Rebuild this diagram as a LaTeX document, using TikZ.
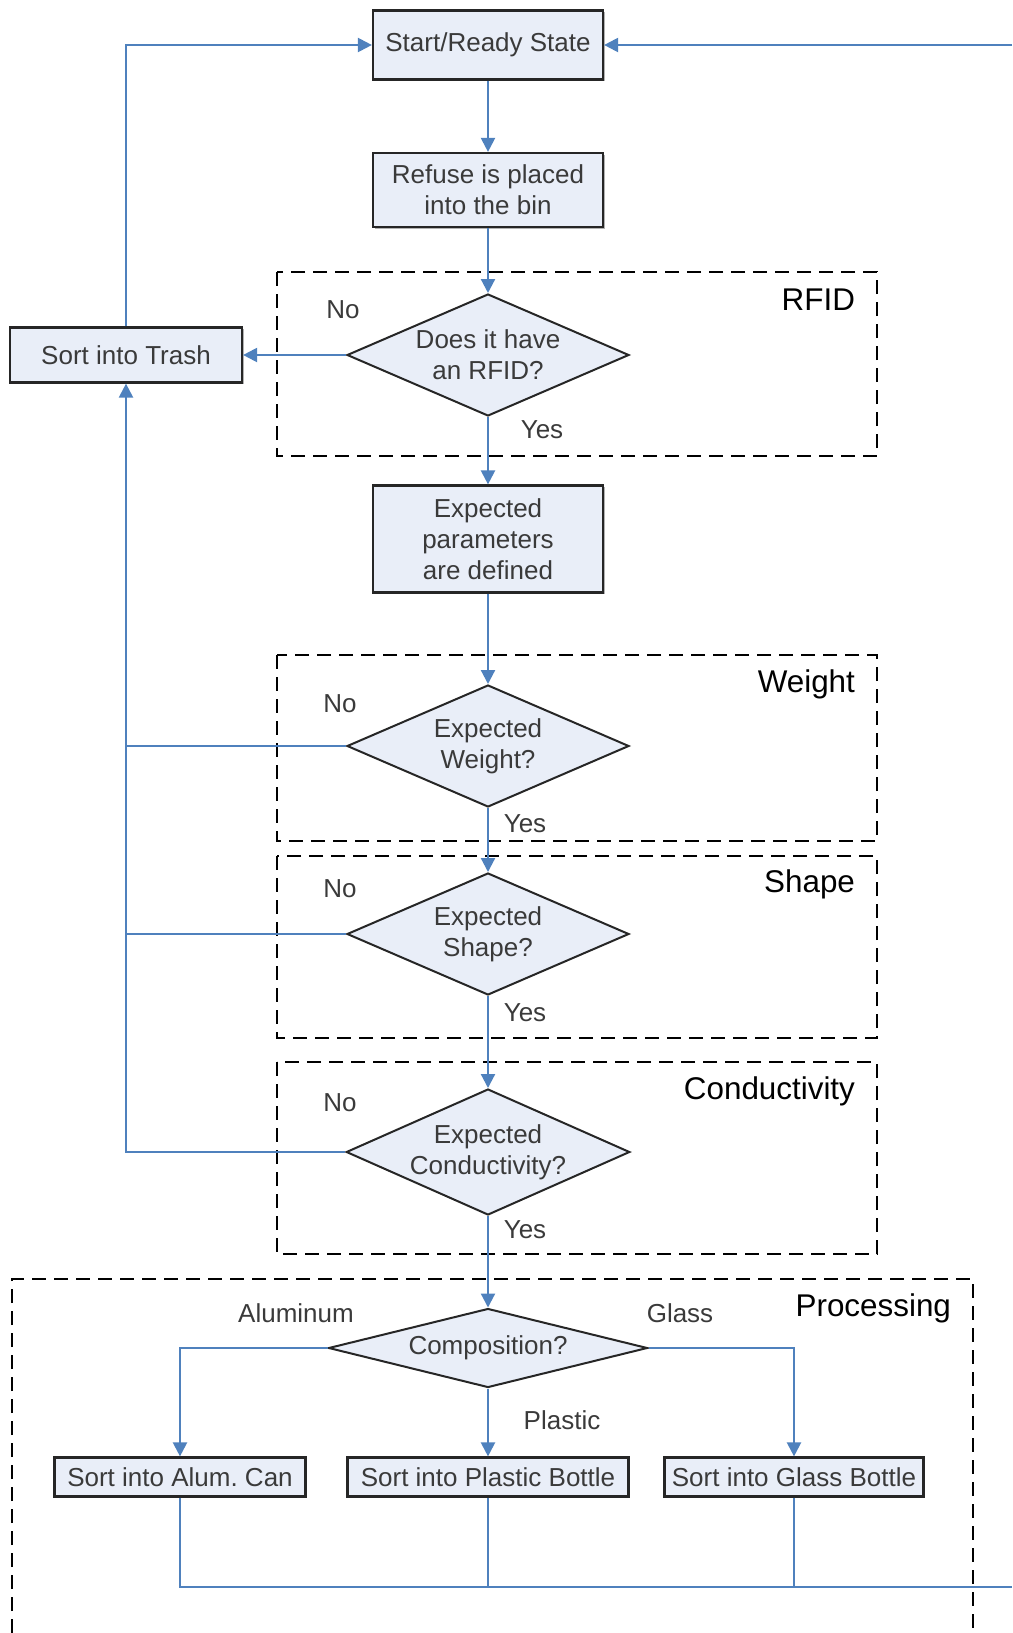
\documentclass[tikz,border=0pt]{standalone}
\usepackage{fontspec}
\setmainfont{Liberation Sans}
\usetikzlibrary{arrows.meta,shapes.geometric,shadows}
\definecolor{FlowBlue}{HTML}{4F81BD}
\definecolor{BoxFill}{HTML}{E9EEF8}
\definecolor{BoxText}{HTML}{3A3A3A}

\tikzset{
  procbox/.style={draw=black!85,line width=1.1pt,fill=BoxFill,text=BoxText,align=center,inner sep=2pt,
    font=\fontsize{13}{15.6}\selectfont,drop shadow={shadow xshift=0.8pt,shadow yshift=-0.8pt,fill=black!60,opacity=0.5}},
  decbox/.style={diamond,draw=black!85,line width=1pt,fill=BoxFill,text=BoxText,align=center,inner sep=0pt,
    shape aspect=2.3,minimum width=141pt,minimum height=61pt,font=\fontsize{13}{15.6}\selectfont},
  flow/.style={draw=FlowBlue,line width=1.1pt,-{Triangle[length=7pt,width=7pt]}},
  link/.style={draw=FlowBlue,line width=1.1pt},
  tag/.style={text=BoxText,font=\fontsize{13}{15.6}\selectfont},
  group/.style={draw=black,line width=1pt,dash pattern=on 7pt off 4pt},
  grouptag/.style={anchor=east,font=\fontsize{15.7}{18}\selectfont}
}

\begin{document}
\begin{tikzpicture}[x=0.5pt,y=-0.5pt]
\useasboundingbox (0,0) rectangle (1012,1633);

% dashed groups
\draw[group] (277,272) rectangle (877,456);
\draw[group] (277,655) rectangle (877,841);
\draw[group] (277,856) rectangle (877,1038);
\draw[group] (277,1062) rectangle (877,1254);
\draw[group] (12,1633) -- (12,1279) -- (973,1279) -- (973,1633);
\node[grouptag] (rfidtag) at (862,300) {RFID};
\node[grouptag] (weighttag) at (862,684) {Weight};
\node[grouptag] (shapetag) at (862,884) {Shape};
\node[grouptag] (condtag) at (862,1091) {Conductivity};
\node[grouptag] (proctag) at (958,1308) {Processing};

% steps
\node[procbox,minimum width=115pt,minimum height=34.5pt] (start) at (488,45) {Start/Ready State};
\node[procbox,minimum width=115pt,minimum height=37pt] (refuse) at (488,190) {Refuse is placed\\into the bin};
\node[decbox] (rfid) at (488,355) {Does it have\\an RFID?};
\node[procbox,minimum width=116pt,minimum height=27.5pt] (trash) at (126,355) {Sort into Trash};
\node[procbox,minimum width=115pt,minimum height=53.5pt] (params) at (488,539) {Expected\\parameters\\are defined};
\node[decbox] (weight) at (488,746) {Expected\\Weight?};
\node[decbox] (shape) at (488,934) {Expected\\Shape?};
\node[decbox,minimum height=63pt] (cond) at (488,1152) {Expected\\Conductivity?};
\node[decbox,shape aspect=4,minimum width=159.5pt,minimum height=39.5pt] (comp) at (488,1348) {Composition?};
\node[procbox,minimum width=125.5pt,minimum height=19.5pt] (alum) at (180,1477) {Sort into Alum.\ Can};
\node[procbox,minimum width=140.5pt,minimum height=19.5pt] (plastic) at (488,1477) {Sort into Plastic Bottle};
\node[procbox,minimum width=129.5pt,minimum height=19.5pt] (glass) at (794,1477) {Sort into Glass Bottle};

% answers
\node[tag] (rfidno) at (343,310) {No};
\node[tag] (rfidyes) at (542,430) {Yes};
\node[tag] (weightno) at (340,704) {No};
\node[tag] (weightyes) at (525,824) {Yes};
\node[tag] (shapeno) at (340,889) {No};
\node[tag] (shapeyes) at (525,1013) {Yes};
\node[tag] (condno) at (340,1103) {No};
\node[tag] (condyes) at (525,1230) {Yes};
\node[tag] (alumtag) at (296,1313) {Aluminum};
\node[tag] (glasstag) at (680,1313) {Glass};
\node[tag] (plastictag) at (562,1420) {Plastic};

\coordinate (backtop) at (1012,45);
\coordinate (backbot) at (1012,1587);

% connectors
\draw[flow] (start.south) -- (refuse.north);
\draw[flow] (refuse.south) -- (rfid.north);
\draw[flow] (rfid.west) -- (trash.east);
\draw[flow] (trash.north) |- (start.west);
\draw[flow] (rfid.south) -- (params.north);
\draw[flow] (params.south) -- (weight.north);
\draw[flow] (weight.south) -- (shape.north);
\draw[flow] (shape.south) -- (cond.north);
\draw[flow] (cond.south) -- (comp.north);
\draw[link] (weight.west) -- (weight.west -| trash.south);
\draw[link] (shape.west) -- (shape.west -| trash.south);
\draw[flow] (cond.west) -| (trash.south);
\draw[flow] (comp.west) -| (alum.north);
\draw[flow] (comp.south) -- (plastic.north);
\draw[flow] (comp.east) -| (glass.north);
\draw[link] (alum.south) |- (backbot);
\draw[link] (plastic.south) -- (plastic.south |- backbot);
\draw[link] (glass.south) -- (glass.south |- backbot);
\draw[flow] (backtop) -- (start.east);
\end{tikzpicture}
\end{document}
